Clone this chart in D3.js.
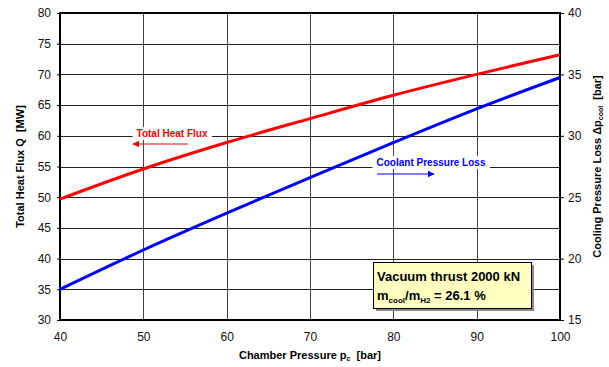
<!DOCTYPE html>
<html>
<head>
<meta charset="utf-8">
<script src="https://cdn.jsdelivr.net/npm/d3@7"></script>
<style>
  html, body { margin: 0; padding: 0; background: #fff; }
  svg { display: block; font-family: "Liberation Sans", Arial, sans-serif; }
</style>
</head>
<body>
<svg id="chart" width="609" height="367"></svg>
<script>
// ---- data ----
const chamberPressure = [40, 50, 60, 70, 80, 90, 100];
const totalHeatFlux   = [49.7, 54.6, 58.9, 62.8, 66.6, 70.0, 73.2];   // MW (left axis)
const coolantLoss     = [17.5, 20.7, 23.7, 26.6, 29.45, 32.2, 34.75]; // bar (right axis)
const xTicks  = [40, 50, 60, 70, 80, 90, 100];
const yLTicks = [30, 35, 40, 45, 50, 55, 60, 65, 70, 75, 80];
const yRTicks = [15, 20, 25, 30, 35, 40];

const svg = d3.select("#chart");
const L = 60, R = 560, T = 13, B = 320;

const x  = d3.scaleLinear().domain([40, 100]).range([L, R]);
const yL = d3.scaleLinear().domain([30, 80]).range([B, T]);
const yR = d3.scaleLinear().domain([15, 40]).range([B, T]);

// grid
const g = svg.append("g");
g.selectAll(".hg").data(yLTicks).join("line")
  .attr("x1", L).attr("x2", R)
  .attr("y1", d => Math.round(yL(d)) + 0.5).attr("y2", d => Math.round(yL(d)) + 0.5)
  .attr("stroke", "#222").attr("stroke-width", 1);
g.selectAll(".vg").data(xTicks).join("line")
  .attr("y1", T).attr("y2", B)
  .attr("x1", d => Math.round(x(d)) + 0.5).attr("x2", d => Math.round(x(d)) + 0.5)
  .attr("stroke", "#444").attr("stroke-width", 1);

// axes
const axL = d3.axisLeft(yL).tickValues(yLTicks).tickSize(3).tickPadding(6);
const axR = d3.axisRight(yR).tickValues(yRTicks).tickSize(4).tickPadding(4);
const axB = d3.axisBottom(x).tickValues(xTicks).tickSize(0).tickPadding(12);

function styleAxis(sel) {
  sel.select(".domain").remove();
  sel.selectAll("line").attr("stroke", "#000");
  sel.selectAll("text").attr("font-size", "12px").attr("fill", "#111")
     .attr("font-family", "'Liberation Sans', Arial, sans-serif");
}
svg.append("g").attr("transform", `translate(${L},0)`).call(axL).call(styleAxis);
svg.append("g").attr("transform", `translate(${R},0)`).call(axR).call(styleAxis);
svg.append("g").attr("transform", `translate(0,${B})`).call(axB).call(styleAxis);

// plot frame
svg.append("rect").attr("x", L).attr("y", T).attr("width", R - L).attr("height", B - T)
  .attr("fill", "none").attr("stroke", "#000").attr("stroke-width", 2);

// lines
const data = chamberPressure.map((p, i) => ({ p, q: totalHeatFlux[i], c: coolantLoss[i] }));
svg.append("path").datum(data)
  .attr("d", d3.line().x(d => x(d.p)).y(d => yL(d.q)).curve(d3.curveCatmullRom))
  .attr("fill", "none").attr("stroke", "#ff0000").attr("stroke-width", 3);
svg.append("path").datum(data)
  .attr("d", d3.line().x(d => x(d.p)).y(d => yR(d.c)).curve(d3.curveCatmullRom))
  .attr("fill", "none").attr("stroke", "#0000ff").attr("stroke-width", 3);

// arrow markers
const defs = svg.append("defs");
function marker(id, color) {
  defs.append("marker").attr("id", id).attr("viewBox", "0 0 10 10")
    .attr("refX", 9).attr("refY", 5).attr("markerWidth", 7).attr("markerHeight", 7)
    .attr("markerUnits", "userSpaceOnUse").attr("orient", "auto")
    .append("path").attr("d", "M0,0 L10,5 L0,10 z").attr("fill", color);
}
marker("arrRed", "#ff0000");
marker("arrBlue", "#0000ff");

// series labels
function seriesLabel(txt, color, cx, cy) {
  const t = svg.append("text").attr("x", cx).attr("y", cy).attr("text-anchor", "middle")
    .attr("font-size", "10px").attr("font-weight", "bold").attr("fill", color).text(txt);
  const bb = t.node().getBBox();
  svg.insert("rect", () => t.node()).attr("x", bb.x - 4).attr("y", bb.y - 1)
    .attr("width", bb.width + 8).attr("height", bb.height + 2).attr("fill", "#fff");
}
seriesLabel("Total Heat Flux", "#ff0000", 172, 137);
svg.append("line").attr("x1", 188).attr("x2", 133).attr("y1", 144).attr("y2", 144)
  .attr("stroke", "#ff0000").attr("stroke-width", 1).attr("marker-end", "url(#arrRed)");
seriesLabel("Coolant Pressure Loss", "#0000ff", 431, 166);
svg.append("line").attr("x1", 377).attr("x2", 434).attr("y1", 174).attr("y2", 174)
  .attr("stroke", "#0000ff").attr("stroke-width", 1).attr("marker-end", "url(#arrBlue)");

// info box
svg.append("rect").attr("x", 376).attr("y", 265).attr("width", 158).attr("height", 46).attr("fill", "#888");
svg.append("rect").attr("x", 373.5).attr("y", 262.5).attr("width", 158).attr("height", 46)
  .attr("fill", "#ffffc0").attr("stroke", "#000").attr("stroke-width", 1);
svg.append("text").attr("x", 377).attr("y", 281).attr("font-size", "13px").attr("font-weight", "bold")
  .attr("fill", "#000").text("Vacuum thrust 2000 kN");
const t2 = svg.append("text").attr("x", 377).attr("y", 300).attr("font-size", "13px")
  .attr("font-weight", "bold").attr("fill", "#000");
t2.append("tspan").text("m");
t2.append("tspan").attr("font-size", "8px").attr("dy", 3).text("cool");
t2.append("tspan").attr("dy", -3).text("/m");
t2.append("tspan").attr("font-size", "8px").attr("dy", 3).text("H2");
t2.append("tspan").attr("dy", -3).text(" = 26.1 %");

// axis titles
const xt = svg.append("text").attr("x", 310).attr("y", 359).attr("text-anchor", "middle")
  .attr("font-size", "11px").attr("font-weight", "bold").attr("fill", "#000");
xt.append("tspan").text("Chamber Pressure p");
xt.append("tspan").attr("font-size", "7px").attr("dy", 2).text("c");
xt.append("tspan").attr("dy", -2).attr("xml:space", "preserve").text("  [bar]");

const ylt = svg.append("text").attr("transform", `translate(24,${(T + B) / 2}) rotate(-90)`)
  .attr("text-anchor", "middle").attr("font-size", "11px").attr("font-weight", "bold").attr("fill", "#000");
ylt.append("tspan").attr("xml:space", "preserve").text("Total Heat Flux Q  [MW]");

const yrt = svg.append("text").attr("transform", `translate(601,${(T + B) / 2}) rotate(-90)`)
  .attr("text-anchor", "middle").attr("font-size", "11px").attr("font-weight", "bold").attr("fill", "#000");
yrt.append("tspan").text("Cooling Pressure Loss \u0394p");
yrt.append("tspan").attr("font-size", "7px").attr("dy", 2).text("cool");
yrt.append("tspan").attr("dy", -2).attr("xml:space", "preserve").text("  [bar]");
</script>
</body>
</html>
